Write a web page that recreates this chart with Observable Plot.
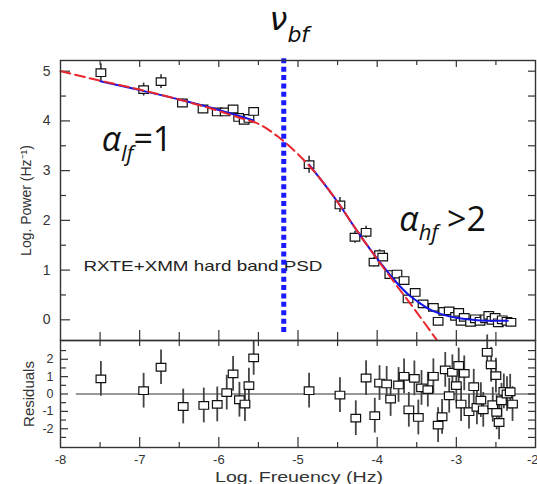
<!DOCTYPE html>
<html><head><meta charset="utf-8">
<script src="https://cdn.jsdelivr.net/npm/d3@7"></script>
<script src="https://cdn.jsdelivr.net/npm/@observablehq/plot@0.6"></script>
<style>
body{margin:0;background:#fff;}
#chart svg{display:block;overflow:visible;background:transparent;}
</style></head><body><div id="chart"></div>
<script>
// ---- tick values and labels ----
const xTickValues = [-8, -7, -6, -5, -4, -3, -2];
const xTickLabels = ["-8", "-7", "-6", "-5", "-4", "-3", "-2"];
const xMinorTicks = [-7.5, -6.5, -5.5, -4.5, -3.5, -2.5];
const powerTickValues = [0, 1, 2, 3, 4, 5];
const powerTickLabels = ["0", "1", "2", "3", "4", "5"];
const powerMinorTicks = [0.5, 1.5, 2.5, 3.5, 4.5];
const residTickValues = [-2, -1, 0, 1, 2];
const residTickLabels = ["-2", "-1", "0", "1", "2"];
const residMinorTicks = [-2.5, -1.5, -0.5, 0.5, 1.5, 2.5];

// ---- PSD data (log frequency, log power, error) ----
const powerX = [-7.49, -6.95, -6.73, -6.46, -6.20, -6.02, -5.92, -5.82, -5.75, -5.68, -5.62, -5.56,
  -4.86, -4.47, -4.28, -4.14, -4.04, -3.97, -3.93, -3.84, -3.75, -3.66, -3.61, -3.52, -3.42, -3.29,
  -3.23, -3.16, -3.09, -3.01, -2.97, -2.94, -2.90, -2.82, -2.76, -2.70, -2.63, -2.59, -2.55, -2.51,
  -2.47, -2.42, -2.36, -2.31];
const powerY = [4.97, 4.63, 4.79, 4.36, 4.24, 4.18, 4.18, 4.24, 4.07, 4.01, 4.05, 4.19,
  3.12, 2.31, 1.66, 1.76, 1.16, 1.31, 1.26, 0.91, 0.92, 0.79, 0.42, 0.55, 0.32, 0.25,
  -0.03, 0.17, 0.18, 0.07, 0.15, -0.03, 0.05, -0.05, 0.02, -0.03, 0.02, 0.09, -0.01, 0.05,
  -0.06, 0.00, -0.03, -0.05];
const powerErr = [0.18, 0.13, 0.14, 0.08, 0.07, 0.07, 0.06, 0.07, 0.06, 0.06, 0.06, 0.08,
  0.17, 0.15, 0.12, 0.12, 0.10, 0.10, 0.08, 0.08, 0.07, 0.06, 0.06, 0.06, 0.05, 0.05,
  0.05, 0.05, 0.05, 0.05, 0.05, 0.04, 0.04, 0.04, 0.04, 0.04, 0.04, 0.04, 0.04, 0.04,
  0.04, 0.04, 0.04, 0.04];

// ---- residuals ----
const residX = [-7.49, -6.95, -6.73, -6.45, -6.19, -6.02, -5.90, -5.82, -5.74, -5.67, -5.62, -5.56,
  -4.86, -4.47, -4.27, -4.14, -4.03, -3.97, -3.88, -3.83, -3.73, -3.66, -3.60, -3.53, -3.48, -3.44,
  -3.36, -3.29, -3.23, -3.18, -3.14, -3.09, -3.05, -3.00, -2.97, -2.94, -2.90, -2.84, -2.78, -2.74,
  -2.69, -2.66, -2.61, -2.56, -2.54, -2.50, -2.49, -2.46, -2.43, -2.40, -2.36, -2.32, -2.29];
const residY = [0.87, 0.19, 1.54, -0.72, -0.66, -0.60, 0.08, 1.16, -0.33, -0.58, 0.48, 2.08,
  0.19, -0.06, -1.39, 0.92, -1.25, 0.63, 0.58, -0.29, 0.52, 1.02, -0.91, 0.90, -1.35, 0.35,
  0.25, 1.02, -1.79, -1.31, 1.39, -0.10, 1.25, 0.48, 1.64, -0.58, 1.19, -1.02, 0.42, -0.77,
  -0.35, -0.91, 2.40, 1.68, -0.62, 1.06, -1.06, -1.64, -0.39, 0.15, 0.00, 0.13, -0.58];
const residErr = [1.0, 1.0, 1.0, 1.0, 1.0, 1.0, 1.0, 1.0, 1.0, 1.0, 1.0, 1.0,
  1.0, 1.0, 1.0, 1.0, 1.0, 1.0, 1.0, 1.0, 1.0, 1.0, 1.0, 1.0, 1.0, 1.0,
  1.0, 1.0, 1.0, 1.0, 1.0, 1.0, 1.0, 1.0, 1.0, 1.0, 1.0, 1.0, 1.0, 1.0,
  1.0, 1.0, 1.0, 1.0, 1.0, 1.0, 1.0, 1.0, 1.0, 1.0, 1.0, 1.0, 1.0];

// ---- model curves ----
const modelX = [-8, -7.5, -7, -6.5, -6, -5.75, -5.5, -5.25, -5, -4.75, -4.5, -4.25, -4, -3.75, -3.5, -3.25];
const modelY = [5.00, 4.81, 4.63, 4.43, 4.20, 4.07, 3.94, 3.68, 3.33, 2.90, 2.37, 1.78, 1.22, 0.68, 0.15, -0.40];
const fitLowX = [-7.5, -7, -6.5, -6, -5.56];
const fitLowY = [4.80, 4.62, 4.43, 4.22, 4.01];
const fitHighX = [-4.86, -4.5, -4.25, -4, -3.85, -3.75, -3.6, -3.5, -3.35, -3.2, -3, -2.8, -2.6, -2.35];
const fitHighY = [3.12, 2.37, 1.78, 1.23, 0.93, 0.74, 0.50, 0.38, 0.22, 0.12, 0.04, 0.00, -0.02, -0.02];
const breakFreq = [-5.18];
const breakSpan = [5.25, -0.32];
const zeroLineX = [-7.8, -2];

// ---- annotations ----
const annX = [-7.48, -3.72];
const annY = [3.40, 1.78];
const annText = ["α|lf|=1", "α|hf| >2"];
const annSubShift = [10, 9];
const breakLabel = ["ν|bf|"];
const breakLabelPos = {x: -5.36, y: 5.82};
const breakSubShift = 12;
const bandLabel = ["RXTE+XMM hard band PSD"];
const bandLabelPos = {x: -7.71, y: 0.99};
const yLabelTop = ["Log. Power (Hz⁻¹)"];
const yLabelBottom = ["Residuals"];
const xLabel = ["Log. Freuency (Hz)"];

// ---- tables ----
const power = powerX.map((x, i) => ({x, y: powerY[i], e: powerErr[i]}));
const resid = residX.map((x, i) => ({x, y: residY[i], e: residErr[i]}));
const model = modelX.map((x, i) => ({x, y: modelY[i]}));
const fitLow = fitLowX.map((x, i) => ({x, y: fitLowY[i]}));
const fitHigh = fitHighX.map((x, i) => ({x, y: fitHighY[i]}));
const ann = annX.map((x, i) => ({x, y: annY[i], t: annText[i]}));
const xTicksMain = xTickValues.map((v, i) => ({v, t: xTickLabels[i]}));

const W = 537, ML = 60, MR = 2;
const innerW = W - ML - MR;
const FONT = "Liberation Sans, Arial, Helvetica, sans-serif";
const TICK = "#333";
const xInner = xTickValues.filter(v => v > -8 && v < -2);

const wideSquare = {
  draw(context, size) {
    const r = Math.sqrt(size / Math.PI);
    const w = r * 1.2, h = r * 0.95;
    context.moveTo(-w, -h); context.lineTo(w, -h); context.lineTo(w, h); context.lineTo(-w, h); context.closePath();
  }
};

function leftTicks(vals, len) { return Plot.tickY(vals, {y: d => d, stroke: TICK, strokeWidth: 1.2, insetRight: innerW - len}); }
function rightTicks(vals, len) { return Plot.tickY(vals, {y: d => d, stroke: TICK, strokeWidth: 1.2, insetLeft: innerW - len}); }
function topTicks(vals, len, ih) { return Plot.tickX(vals, {x: d => d, stroke: TICK, strokeWidth: 1.2, insetBottom: ih - len}); }
function bottomTicks(vals, len, ih) { return Plot.tickX(vals, {x: d => d, stroke: TICK, strokeWidth: 1.2, insetTop: ih - len}); }

// ---- top panel ----
const topH = 340, topMT = 60, topInnerH = topH - topMT;
const topPlot = Plot.plot({
  width: W, height: topH, marginTop: topMT, marginBottom: 0, marginLeft: ML, marginRight: MR,
  x: {domain: [-8, -2], axis: null},
  y: {domain: [-0.416, 5.215], axis: null},
  style: {fontFamily: FONT, background: "transparent", overflow: "visible"},
  marks: [
    leftTicks(powerTickValues, 10), leftTicks(powerMinorTicks, 6),
    rightTicks(powerTickValues.concat(powerMinorTicks), 7),
    topTicks(xInner, 7, topInnerH), topTicks(xMinorTicks, 5, topInnerH),
    bottomTicks(xInner, 10, topInnerH), bottomTicks(xMinorTicks, 8, topInnerH),
    Plot.text(powerTickValues, {y: d => d, text: (d, i) => powerTickLabels[i], frameAnchor: "left", dx: -10, textAnchor: "end", lineAnchor: "middle", fontSize: 14, fill: "#333"}),
    Plot.text(yLabelTop, {frameAnchor: "left", dx: -30, rotate: -90, textAnchor: "middle", lineAnchor: "bottom", fontSize: 14, fill: "#333"}),
    Plot.text(bandLabel, {x: bandLabelPos.x, y: bandLabelPos.y, textAnchor: "start", lineAnchor: "bottom", fontSize: 15, fill: "#222"}),
    Plot.ruleX(power, {x: "x", y1: d => d.y - d.e, y2: d => d.y + d.e, stroke: "#333", strokeWidth: 1.6}),
    Plot.dot(power, {x: "x", y: "y", r: 4, symbol: wideSquare, fill: "white", stroke: "#111", strokeWidth: 1.2}),
    Plot.line(fitLow, {x: "x", y: "y", stroke: "#1414e6", strokeWidth: 2, curve: "monotone-x"}),
    Plot.line(fitHigh, {x: "x", y: "y", stroke: "#1414e6", strokeWidth: 2, curve: "monotone-x"}),
    Plot.line(model, {x: "x", y: "y", stroke: "#e8262c", strokeWidth: 2, strokeDasharray: "10,5", curve: "monotone-x"}),
    Plot.ruleX(breakFreq, {x: d => d, y1: breakSpan[0], y2: breakSpan[1], stroke: "#1a1aff", strokeWidth: 5, strokeDasharray: "5,3.4"}),
    Plot.text(ann, {x: "x", y: "y", text: "t", textAnchor: "start", lineAnchor: "bottom", fontSize: 34, fontFamily: "Open Sans", fill: "#111"}),
    Plot.text(breakLabel, {x: breakLabelPos.x, y: breakLabelPos.y, textAnchor: "start", lineAnchor: "bottom", fontSize: 32, fontFamily: "DejaVu Sans", fill: "#111"}),
    Plot.frame({stroke: "#333", strokeWidth: 1.4})
  ]
});

// ---- residual panel ----
const botH = 144, botMB = 37, botInnerH = botH - botMB;
const botPlot = Plot.plot({
  width: W, height: botH, marginTop: 0, marginBottom: botMB, marginLeft: ML, marginRight: MR,
  x: {domain: [-8, -2], axis: null},
  y: {domain: [-3.08, 3.08], axis: null},
  style: {fontFamily: FONT, background: "transparent", overflow: "visible"},
  marks: [
    leftTicks(residTickValues, 8), leftTicks(residMinorTicks, 6),
    rightTicks(residTickValues.concat(residMinorTicks), 7),
    topTicks(xInner.concat(xMinorTicks), 6, botInnerH),
    bottomTicks(xInner, 10, botInnerH), bottomTicks(xMinorTicks, 5, botInnerH),
    Plot.text(residTickValues, {y: d => d, text: (d, i) => residTickLabels[i], frameAnchor: "left", dx: -7, textAnchor: "end", lineAnchor: "middle", fontSize: 12.5, fill: "#333"}),
    Plot.text(xTicksMain.slice(0, -1), {x: "v", text: "t", frameAnchor: "bottom", dy: 16.3, lineAnchor: "bottom", fontSize: 13, fill: "#333"}),
    Plot.text(xTicksMain.slice(-1), {x: "v", text: "t", frameAnchor: "bottom", dy: 16.3, dx: 3, textAnchor: "end", lineAnchor: "bottom", fontSize: 13, fill: "#333"}),
    Plot.text(xLabel, {frameAnchor: "bottom", dy: 34, dx: 1, lineAnchor: "bottom", fontSize: 15, fill: "#333"}),
    Plot.text(yLabelBottom, {frameAnchor: "left", dx: -27, rotate: -90, textAnchor: "middle", lineAnchor: "bottom", fontSize: 15, fill: "#333"}),
    Plot.ruleY([0], {x1: zeroLineX[0], x2: zeroLineX[1], stroke: "#333", strokeWidth: 1.1}),
    Plot.ruleX(resid, {x: "x", y1: d => d.y - d.e, y2: d => d.y + d.e, stroke: "#444", strokeWidth: 1.8}),
    Plot.dot(resid, {x: "x", y: "y", r: 4, symbol: wideSquare, fill: "white", stroke: "#111", strokeWidth: 1.2}),
    Plot.frame({stroke: "#333", strokeWidth: 1.4})
  ]
});

const root = document.getElementById("chart");
root.append(topPlot, botPlot);

// ---- rich text: subscripts and stretched labels ----
const NS = "http://www.w3.org/2000/svg";
function subscriptify(t, s, shift, subSize) {
  const [main, sub, rest] = s.split("|");
  t.textContent = "";
  const a = document.createElementNS(NS, "tspan");
  a.setAttribute("font-style", "italic"); a.textContent = main;
  const b = document.createElementNS(NS, "tspan");
  b.setAttribute("font-style", "italic"); b.setAttribute("font-size", subSize); b.setAttribute("dy", shift); b.textContent = sub;
  t.append(a, b);
  if (rest) {
    const c = document.createElementNS(NS, "tspan");
    c.setAttribute("dy", -shift); c.textContent = rest;
    t.append(c);
  }
}
document.querySelectorAll("#chart text").forEach(t => {
  const s = t.textContent;
  const k = annText.indexOf(s);
  if (k >= 0) {
    subscriptify(t, s, annSubShift[k], 22);
  } else if (s === breakLabel[0]) {
    subscriptify(t, s, breakSubShift, 22);
  } else if (s === bandLabel[0]) {
    t.setAttribute("textLength", 239); t.setAttribute("lengthAdjust", "spacingAndGlyphs");
  } else if (s === xLabel[0]) {
    t.setAttribute("textLength", 168); t.setAttribute("lengthAdjust", "spacingAndGlyphs");
  }
});
</script></body></html>
